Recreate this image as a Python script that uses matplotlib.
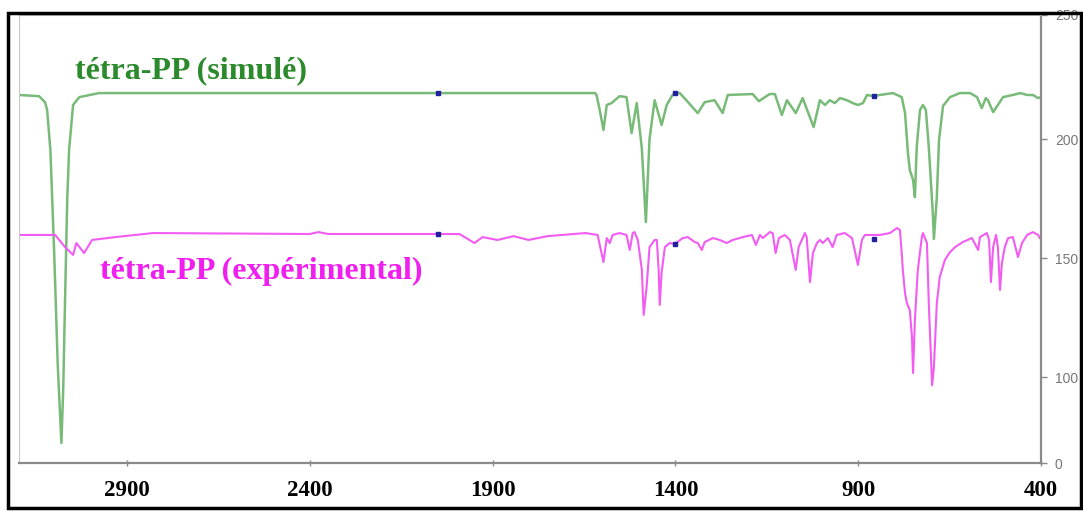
import matplotlib
matplotlib.use("Agg")
import matplotlib.pyplot as plt
from matplotlib.patches import Rectangle

# ---------------- data ----------------
sim_wn = [3195, 3141, 3125, 3119, 3110, 3100, 3090, 3080, 3075, 3070, 3064, 3059, 3048, 3031, 2977, 1620,
          1616, 1607, 1597, 1588, 1575, 1553, 1534, 1520, 1506, 1492, 1481,
          1471, 1457, 1438, 1424, 1408, 1402, 1388, 1339, 1320, 1293, 1271,
          1257, 1189, 1172, 1142, 1128, 1109, 1095, 1071, 1052, 1022, 1005,
          991, 978, 964, 950, 931, 915, 901, 887, 876, 857, 841, 805, 781,
          772, 764, 759, 750, 745, 740, 731, 723, 715, 707, 696, 693, 685,
          679, 668, 649, 622, 594, 575, 562, 551, 545, 531, 518, 504, 477,
          457, 438, 422, 408, 400]
sim_val = [218.5, 218.0, 215.5, 212.2, 195.0, 153.4, 105.0, 72.3, 95.0, 132.4, 175.0, 195.4, 214.3, 217.6, 219.3, 219.3,
           218.5, 212.0, 203.8, 214.3, 215.1, 218.0, 217.6, 202.5, 215.1, 196.0, 165.1,
           200.0, 216.3, 205.9, 214.3, 218.5, 219.3, 219.3, 210.9, 215.5, 216.3, 210.9,
           218.5, 218.9, 215.9, 218.9, 218.9, 210.1, 216.3, 210.9, 217.2, 205.0, 216.3,
           214.3, 216.3, 215.1, 217.2, 216.3, 215.1, 214.3, 215.1, 218.5, 218.0, 218.5, 219.3, 217.6,
           210.9, 194.1, 187.0, 182.8, 175.6, 196.6, 212.2, 214.3, 212.2, 196.6, 168.9, 158.0, 175.6,
           199.6, 213.9, 217.6, 219.3, 219.3, 217.6, 213.0, 217.2, 216.3, 211.3, 214.3, 217.6, 218.5,
           219.3, 218.5, 218.5, 217.2, 217.6]

exp_wn = [3195, 3097, 3070, 3048, 3039, 3018, 2996, 2933, 2829, 2400, 2377, 2350,
          1991, 1950, 1928, 1887, 1843, 1802, 1750, 1646, 1613, 1597, 1588, 1580,
          1572, 1553, 1534, 1525, 1517, 1512, 1503, 1492, 1487, 1479, 1471, 1457,
          1451, 1446, 1443, 1438, 1429, 1416, 1402, 1380, 1366, 1347, 1339, 1328,
          1320, 1298, 1279, 1260, 1243, 1216, 1191, 1180, 1169, 1161, 1142, 1134,
          1126, 1117, 1101, 1087, 1071, 1063, 1046, 1041, 1032, 1024, 1013, 1005,
          997, 983, 970, 959, 937, 917, 901, 890, 882, 868, 841, 813, 794, 786,
          781, 778, 772, 767, 759, 753, 750, 745, 737, 726, 723, 712, 707, 698,
          693, 685, 677, 663, 649, 635, 614, 589, 572, 567, 548, 542, 537, 531,
          523, 518, 512, 507, 499, 490, 477, 463, 452, 438, 422, 408, 403]
exp_val = [159.7, 159.7, 154.6, 151.3, 156.3, 152.1, 157.6, 158.8, 160.5, 160.1, 160.9, 160.1,
           160.1, 156.3, 158.8, 157.6, 159.2, 157.6, 159.2, 160.5, 159.7, 148.3, 158.4, 156.3,
           159.7, 160.5, 159.7, 153.4, 160.5, 160.9, 157.6, 145.0, 126.1, 137.8, 154.6, 157.6,
           157.6, 145.0, 130.3, 143.7, 154.6, 156.3, 155.9, 158.4, 158.8, 156.7, 156.3, 153.4,
           156.7, 158.4, 157.6, 156.3, 157.6, 158.8, 159.7, 155.5, 159.7, 158.4, 160.9, 160.5,
           152.1, 158.4, 159.7, 157.6, 145.0, 154.6, 160.5, 158.8, 139.9, 152.1, 156.3, 157.6,
           156.3, 158.4, 154.6, 159.7, 160.5, 158.4, 147.1, 157.6, 159.7, 159.7, 159.7, 160.5, 162.6, 161.8,
           152.1, 145.0, 135.3, 131.1, 128.2, 116.8, 101.7, 124.0, 145.0, 158.8, 160.5, 156.3, 131.1, 96.6,
           104.2, 131.1, 142.0, 149.2, 152.5, 154.6, 156.7, 158.4, 153.4, 158.8, 160.5, 157.6, 139.9, 154.6,
           159.7, 154.6, 136.6, 147.9, 154.6, 158.4, 158.8, 150.4, 156.3, 159.7, 160.9, 159.7, 158.4]

# small blue markers on the traces
sim_mark_wn = [2051, 1402, 857]
sim_mark_val = [219.3, 219.3, 218.0]
exp_mark_wn = [2051, 1402, 857]
exp_mark_val = [160.1, 155.9, 158.0]

x_ticks = [2900, 2400, 1900, 1400, 900, 400]
x_ticklabels = ["2900", "2400", "1900", "1400", "900", "400"]
y_ticks = [63.9, 100, 150, 200, 252.1]
y_ticklabels = ["0", "100", "150", "200", "250"]

label_sim = "tétra-PP (simulé)"
label_exp = "tétra-PP (expérimental)"

# ---------------- figure ----------------
W, H = 1083, 511
fig = plt.figure(figsize=(W / 100, H / 100), dpi=100)
fig.patch.set_facecolor("white")

ax = fig.add_axes([19 / W, 1 - 463 / H, (1041 - 19) / W, (463 - 15) / H])
ax.set_facecolor("white")

green_line = "#78bb78"
green_text = "#2b8a2b"
mag_line = "#f25cf2"
mag_text = "#f01ff0"

ax.plot(sim_wn, sim_val, color=green_line, lw=1.8, solid_joinstyle="round")
ax.plot(exp_wn, exp_val, color=mag_line, lw=1.5, solid_joinstyle="round")
ax.plot(sim_mark_wn, sim_mark_val, ls="none", marker="s", ms=3, color="#2020a0")
ax.plot(exp_mark_wn, exp_mark_val, ls="none", marker="s", ms=3, color="#2020a0")

ax.set_xlim(3196, 400)
ax.set_ylim(63.9, 252.1)

ax.set_xticks(x_ticks)
ax.set_xticklabels(x_ticklabels, fontfamily="Liberation Serif",
                   fontweight="bold", fontsize=16.5, color="black")
ax.tick_params(axis="x", direction="inout", length=5, width=1,
               color="#888888", pad=10)

ax.yaxis.tick_right()
ax.set_yticks(y_ticks)
ax.set_yticklabels(y_ticklabels, fontfamily="Liberation Sans",
                   fontsize=10, color="#777777")
ax.tick_params(axis="y", direction="out", length=4, width=1,
               color="#888888", pad=6)

for s in ("right", "bottom"):
    ax.spines[s].set_color("#8a8a8a")
    ax.spines[s].set_linewidth(1.6)
for s in ("left", "top"):
    ax.spines[s].set_color("#c8c8c8")
    ax.spines[s].set_linewidth(0.8)

ax.text(0.0545, 0.876, label_sim, transform=ax.transAxes,
        fontfamily="Liberation Serif", fontweight="bold", fontsize=23,
        color=green_text, va="center", ha="left")
ax.text(0.079, 0.428, label_exp, transform=ax.transAxes,
        fontfamily="Liberation Serif", fontweight="bold", fontsize=23,
        color=mag_text, va="center", ha="left")

# outer black frame
fig.patches.append(Rectangle((8 / W, 1 - 508 / H), (1081 - 8) / W, (508 - 13) / H,
                             transform=fig.transFigure, fill=False,
                             edgecolor="black", lw=2.5, zorder=10))

fig.savefig("out.png", dpi=100, facecolor="white")
